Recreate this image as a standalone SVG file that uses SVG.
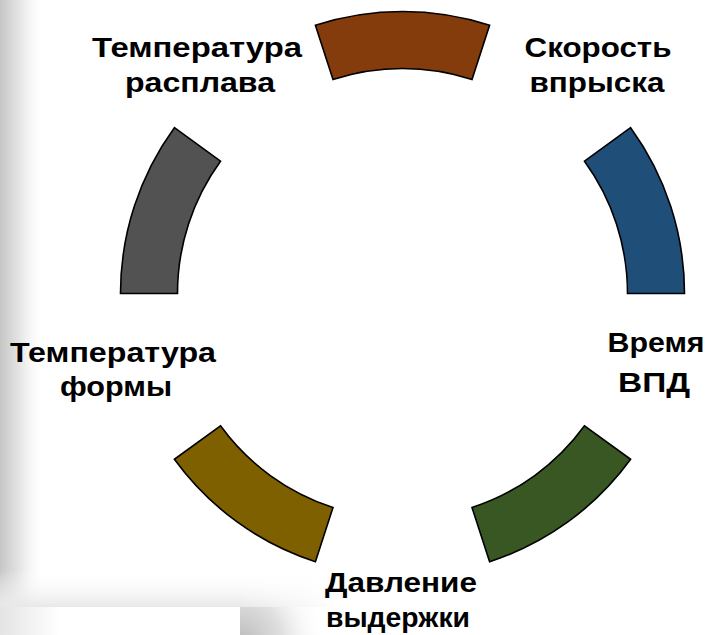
<svg xmlns="http://www.w3.org/2000/svg" width="706" height="635" viewBox="0 0 706 635">
<defs>
<linearGradient id="leftShade" x1="0" y1="0" x2="1" y2="0">
<stop offset="0" stop-color="#c6c6c6"/>
<stop offset="0.45" stop-color="#e6e6e6"/>
<stop offset="1" stop-color="#ffffff" stop-opacity="0"/>
</linearGradient>
<linearGradient id="bottomShade" x1="0" y1="0" x2="0" y2="1">
<stop offset="0" stop-color="#ffffff" stop-opacity="0"/>
<stop offset="1" stop-color="#e8e8e8"/>
</linearGradient>
<linearGradient id="bottomFade" x1="0" y1="0" x2="1" y2="0">
<stop offset="0" stop-color="#fff" stop-opacity="0"/>
<stop offset="0.7" stop-color="#fff" stop-opacity="0"/>
<stop offset="1" stop-color="#fff" stop-opacity="1"/>
</linearGradient>
<radialGradient id="cornerShade" cx="240" cy="640" r="85" gradientUnits="userSpaceOnUse">
<stop offset="0" stop-color="#bdbdbd"/>
<stop offset="0.5" stop-color="#e0e0e0"/>
<stop offset="1" stop-color="#ffffff" stop-opacity="0"/>
</radialGradient>
<linearGradient id="boxShade" x1="0" y1="0" x2="1" y2="0">
<stop offset="0" stop-color="#e4e4e4"/>
<stop offset="0.25" stop-color="#ffffff"/>
<stop offset="1" stop-color="#ffffff"/>
</linearGradient>
</defs>
<style>
.seg{stroke:#000;stroke-width:1.6;stroke-linejoin:miter}
.lbl{font-family:"Liberation Sans",Arial,sans-serif;font-weight:bold;font-size:28px;fill:#000;text-anchor:middle}
</style>
<rect x="0" y="0" width="706" height="635" fill="#ffffff"/>
<g id="background">
<rect x="0" y="0" width="45" height="607" fill="url(#leftShade)"/>
<rect x="0" y="570" width="340" height="37" fill="url(#bottomShade)"/>
<rect x="0" y="570" width="340" height="37" fill="url(#bottomFade)"/>
<rect x="240" y="607" width="100" height="28" fill="url(#cornerShade)"/>
<rect x="0" y="607" width="240" height="28" fill="url(#boxShade)"/>
</g>
<g id="segments">
<g id="seg-blue"><path class="seg" fill="#1f4e79" d="M684.5,293.5 A282,282 0 0 0 630.6,127.7 L584.5,161.2 A225,225 0 0 1 627.5,293.5 Z"/></g>
<g id="seg-brown"><path class="seg" fill="#843c0c" d="M489.6,25.3 A282,282 0 0 0 315.4,25.3 L333.0,79.5 A225,225 0 0 1 472.0,79.5 Z"/></g>
<g id="seg-gray"><path class="seg" fill="#525252" d="M174.4,127.7 A282,282 0 0 0 120.5,293.5 L177.5,293.5 A225,225 0 0 1 220.5,161.2 Z"/></g>
<g id="seg-olive"><path class="seg" fill="#7f6000" d="M174.4,459.3 A282,282 0 0 0 315.4,561.7 L333.0,507.5 A225,225 0 0 1 220.5,425.8 Z"/></g>
<g id="seg-green"><path class="seg" fill="#385723" d="M489.6,561.7 A282,282 0 0 0 630.6,459.3 L584.5,425.8 A225,225 0 0 1 472.0,507.5 Z"/></g>
</g>
<g id="label-melt"><text class="lbl" x="197" y="57" textLength="210" lengthAdjust="spacingAndGlyphs">Температура</text><text class="lbl" x="200" y="92" textLength="150" lengthAdjust="spacingAndGlyphs">расплава</text></g>
<g id="label-speed"><text class="lbl" x="598" y="57" textLength="147" lengthAdjust="spacingAndGlyphs">Скорость</text><text class="lbl" x="597" y="92" textLength="135" lengthAdjust="spacingAndGlyphs">впрыска</text></g>
<g id="label-time"><text class="lbl" x="656" y="352" textLength="97" lengthAdjust="spacingAndGlyphs">Время</text><text class="lbl" x="654" y="392" textLength="72" lengthAdjust="spacingAndGlyphs">ВПД</text></g>
<g id="label-mold"><text class="lbl" x="113" y="362" textLength="206" lengthAdjust="spacingAndGlyphs">Температура</text><text class="lbl" x="116" y="396" textLength="112" lengthAdjust="spacingAndGlyphs">формы</text></g>
<g id="label-pressure"><text class="lbl" x="401" y="592" textLength="152" lengthAdjust="spacingAndGlyphs">Давление</text><text class="lbl" x="398" y="627" textLength="144" lengthAdjust="spacingAndGlyphs">выдержки</text></g>
</svg>
